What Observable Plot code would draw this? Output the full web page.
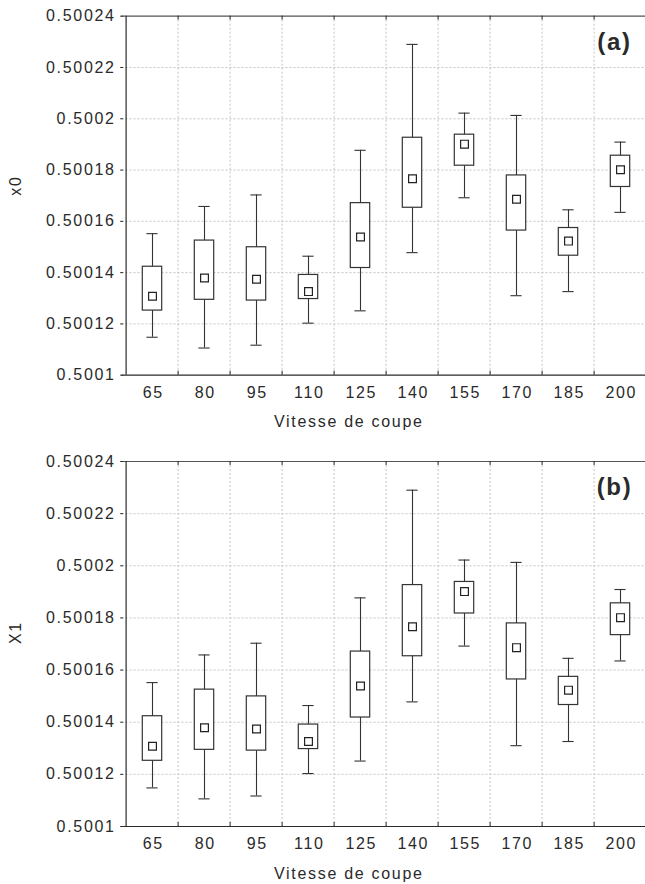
<!DOCTYPE html>
<html>
<head>
<meta charset="utf-8">
<script src="https://cdn.jsdelivr.net/npm/d3@7"></script>
<script src="https://cdn.jsdelivr.net/npm/@observablehq/plot@0.6"></script>
<style>
  html, body { margin: 0; padding: 0; background: #fff; overflow: hidden; }
  svg { overflow: hidden; display: block; }
</style>
</head>
<body>
<div id="chart"></div>
<script>
// Cutting speed categories (Vitesse de coupe)
const speeds = ["65", "80", "95", "110", "125", "140", "155", "170", "185", "200"];
// Box plot statistics (same values in panels a and b)
const whiskerHigh = [0.5001552, 0.5001658, 0.5001703, 0.5001464, 0.5001877, 0.5002290, 0.5002022, 0.5002013, 0.5001645, 0.5001909];
const boxHigh     = [0.5001423, 0.5001525, 0.5001499, 0.5001391, 0.5001671, 0.5001926, 0.5001938, 0.5001779, 0.5001574, 0.5001856];
const centre      = [0.5001308, 0.5001379, 0.5001374, 0.5001326, 0.5001539, 0.5001766, 0.5001901, 0.5001686, 0.5001523, 0.5001801];
const boxLow      = [0.5001252, 0.5001294, 0.5001291, 0.5001297, 0.5001418, 0.5001653, 0.5001817, 0.5001564, 0.5001466, 0.5001734];
const whiskerLow  = [0.5001148, 0.5001106, 0.5001117, 0.5001203, 0.5001251, 0.5001478, 0.5001692, 0.5001310, 0.5001326, 0.5001635];
// Axis ticks and labels
const yTicks = [0.5001, 0.50012, 0.50014, 0.50016, 0.50018, 0.5002, 0.50022, 0.50024];
const xTitle = "Vitesse de coupe";
const panels = [
  {yTitle: "x0", tag: "(a)", marginTop: 15.7, plotH: 359, marginBottom: 65.3},
  {yTitle: "X1", tag: "(b)", marginTop: 21, plotH: 365, marginBottom: 58}
];

const idx = d3.range(speeds.length);
const X0 = 121.5, X1 = 649.5;
const bw = (X1 - X0) / speeds.length;
const ink = "#2a2a2a";
const fmt = d => String(+d.toFixed(5));

function panel(p) {
  const H = p.marginTop + p.plotH + p.marginBottom;
  return Plot.plot({
    width: 645,
    height: H,
    marginTop: p.marginTop,
    marginBottom: p.marginBottom,
    marginLeft: X0,
    marginRight: 0,
    style: {fontFamily: "'Liberation Sans', Arial, sans-serif", fontSize: "16px", color: ink, background: "#fff", overflow: "hidden", letterSpacing: "1.7px"},
    x: {type: "band", domain: speeds, range: [X0, X1], padding: 0, axis: null},
    y: {domain: [yTicks[0], yTicks[yTicks.length - 1]], axis: null},
    marks: [
      // grid
      Plot.ruleY(yTicks.slice(1, -1), {stroke: "#c4c4c4", strokeDasharray: "2,2"}),
      Plot.ruleX(speeds.slice(1), {x: d => d, dx: -bw / 2, stroke: "#c4c4c4", strokeDasharray: "2,2"}),
      // frame lines
      Plot.ruleY([yTicks[yTicks.length - 1]], {stroke: "#555", strokeWidth: 1.2}),
      Plot.ruleY([yTicks[0]], {stroke: ink, strokeWidth: 1.2}),
      Plot.ruleX([speeds[0]], {x: d => d, dx: -bw / 2, stroke: ink, strokeWidth: 1.2}),
      // small inward ticks at category boundaries
      Plot.ruleX(speeds.slice(1), {x: d => d, dx: -bw / 2, insetTop: p.plotH - 4, stroke: ink}),
      Plot.ruleX(speeds.slice(1), {x: d => d, dx: -bw / 2, insetBottom: p.plotH - 4, stroke: ink}),
      // axes
      Plot.axisY(yTicks, {tickSize: 3, tickPadding: 5, tickFormat: fmt, label: null, fontSize: 16, dx: 1.7}),
      Plot.axisX({tickSize: 0, tickPadding: 11, label: null, fontSize: 16, dx: 0.8}),
      // whiskers
      Plot.ruleX(idx, {x: i => speeds[i], y1: i => whiskerLow[i], y2: i => whiskerHigh[i], stroke: "#333", strokeWidth: 1.1}),
      Plot.tickY(idx, {x: i => speeds[i], y: i => whiskerHigh[i], insetLeft: 20.4, insetRight: 20.4, stroke: "#333", strokeWidth: 1.1}),
      Plot.tickY(idx, {x: i => speeds[i], y: i => whiskerLow[i], insetLeft: 20.4, insetRight: 20.4, stroke: "#333", strokeWidth: 1.1}),
      // boxes
      Plot.barY(idx, {x: i => speeds[i], y1: i => boxLow[i], y2: i => boxHigh[i], insetLeft: 16.3, insetRight: 16.3, fill: "#fff", stroke: "#333", strokeWidth: 1.2}),
      // centre markers
      Plot.dot(idx, {x: i => speeds[i], y: i => centre[i], symbol: "square", r: 4.4, fill: "#fff", stroke: "#222", strokeWidth: 1.2}),
      // titles
      Plot.text([xTitle], {frameAnchor: "bottom", dx: -35, dy: 47, lineAnchor: "middle", fontSize: 16, fill: ink}),
      Plot.text([p.yTitle], {frameAnchor: "left", dx: -106, rotate: -90, fontSize: 16, fill: ink}),
      Plot.text([p.tag], {frameAnchor: "top-right", dx: -31, dy: 26, textAnchor: "middle", lineAnchor: "middle", fontSize: 24, fontWeight: "bold", fill: ink})
    ]
  });
}

const root = document.getElementById("chart");
for (const p of panels) root.appendChild(panel(p));
</script>
</body>
</html>
